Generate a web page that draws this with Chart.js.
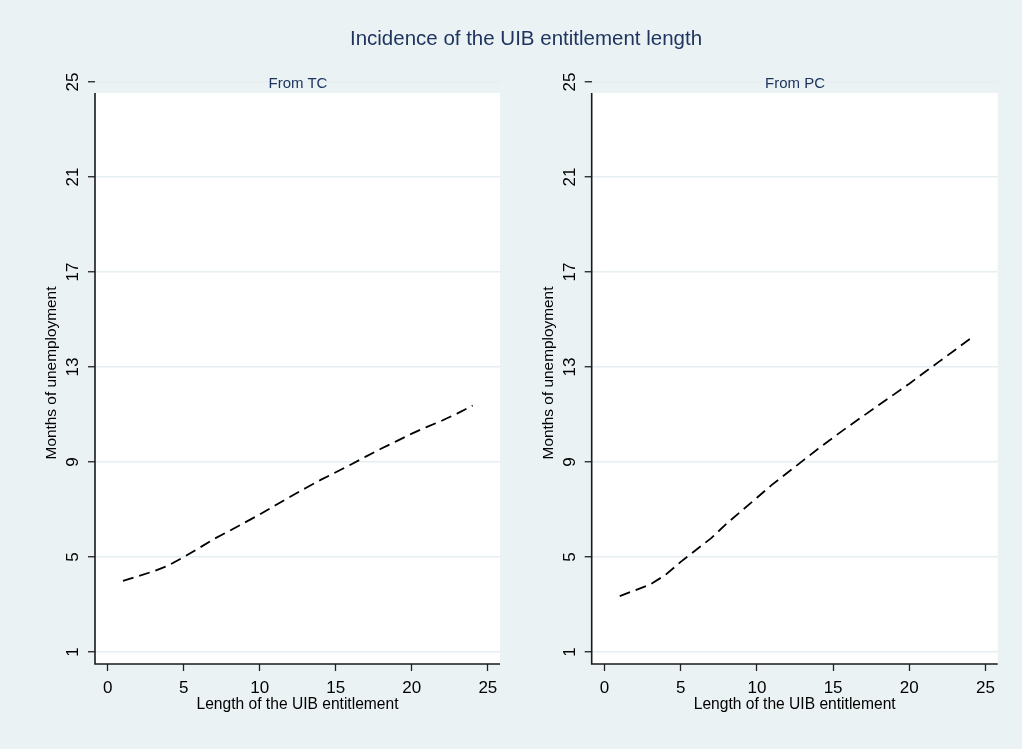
<!DOCTYPE html>
<html>
<head>
<meta charset="utf-8">
<script src="https://cdn.jsdelivr.net/npm/chart.js@4.4.1/dist/chart.umd.min.js"></script>
<style>
  html, body { margin: 0; padding: 0; }
  body {
    width: 1022px; height: 749px; position: relative; overflow: hidden;
    background: #eaf2f3; font-family: "Liberation Sans", Arial, sans-serif;
  }
  canvas { position: absolute; top: 0; z-index: 1; }
  .lbl {
    position: absolute; color: #1f3560; white-space: nowrap; z-index: 2;
    transform: translate(-50%, -50%); line-height: 1;
  }
</style>
</head>
<body>
<canvas id="chart-tc" width="511" height="749" style="left:0"></canvas>
<canvas id="chart-pc" width="511" height="749" style="left:511px"></canvas>
<div class="lbl" style="left:526px; top:38px; font-size:20.5px;">Incidence of the UIB entitlement length</div>
<div class="lbl" style="left:298px; top:82px; font-size:15px;">From TC</div>
<div class="lbl" style="left:795px; top:82px; font-size:15px;">From PC</div>
<script>
// length of the UIB entitlement (months)
const months = [1, 2, 3, 4, 5, 6, 7, 8, 9, 10, 11, 12, 13, 14, 15, 16, 17, 18, 19, 20, 21, 22, 23, 24];

// months of unemployment
const fromTC = [4.0, 4.2, 4.4, 4.65, 5.0, 5.38, 5.77, 6.1, 6.45, 6.8, 7.17, 7.54,
                7.9, 8.25, 8.57, 8.9, 9.24, 9.57, 9.88, 10.2, 10.48, 10.75, 11.05, 11.38];
const fromPC = [3.36, 3.6, 3.85, 4.25, 4.8, 5.3, 5.8, 6.4, 6.95, 7.5, 8.05, 8.55,
                9.05, 9.55, 10.03, 10.5, 10.95, 11.4, 11.85, 12.3, 12.78, 13.25, 13.72, 14.2];

const yTicks = [1, 5, 9, 13, 17, 21, 25];
const xTicks = [0, 5, 10, 15, 20, 25];

const FONT = "'Liberation Sans', Arial, sans-serif";

// white plot region + axis lines, stata style
const stataFrame = {
    id: 'stataFrame',
    beforeDraw(chart, args, opts) {
        const a = chart.chartArea;
        const ctx = chart.ctx;
        ctx.save();
        ctx.fillStyle = '#ffffff';
        ctx.fillRect(a.left, a.top + opts.inset, a.right - a.left, a.bottom - a.top - opts.inset);
        ctx.restore();
    },
    afterDatasetsDraw(chart, args, opts) {
        const a = chart.chartArea;
        const ctx = chart.ctx;
        ctx.save();
        ctx.strokeStyle = '#1a1a1a';
        ctx.lineWidth = 1.6;
        ctx.beginPath();
        ctx.moveTo(a.left, a.top + opts.inset);
        ctx.lineTo(a.left, a.bottom);
        ctx.lineTo(a.right, a.bottom);
        ctx.stroke();
        ctx.restore();
    }
};

function makeChart(canvasId, values, padLeft, padRight) {
    const ctx = document.getElementById(canvasId).getContext('2d');
    return new Chart(ctx, {
        type: 'line',
        data: {
            datasets: [{
                data: months.map((m, i) => ({ x: m, y: values[i] })),
                borderColor: '#000000',
                borderWidth: 1.8,
                borderDash: [11, 6],
                pointRadius: 0,
                tension: 0,
                fill: false
            }]
        },
        options: {
            responsive: false,
            animation: false,
            layout: { padding: { left: padLeft, right: padRight, top: 82, bottom: 25 } },
            plugins: {
                legend: { display: false },
                tooltip: { enabled: false },
                stataFrame: { inset: 11 }
            },
            scales: {
                x: {
                    type: 'linear',
                    min: -0.84,
                    max: 25.8,
                    afterBuildTicks: s => { s.ticks = xTicks.map(v => ({ value: v })); },
                    afterFit: s => { s.height = 60; },
                    grid: { drawOnChartArea: false, drawTicks: true, tickLength: 7, tickColor: '#222', tickWidth: 1.3 },
                    border: { display: false },
                    ticks: { color: '#000', padding: 7, font: { family: FONT, size: 17 }, maxRotation: 0 },
                    title: {
                        display: true, text: 'Length of the UIB entitlement', color: '#000',
                        font: { family: FONT, size: 15.6 }, padding: { top: 0, bottom: 10 }
                    }
                },
                y: {
                    type: 'linear',
                    min: 0.5,
                    max: 25,
                    afterBuildTicks: s => { s.ticks = yTicks.map(v => ({ value: v })); },
                    afterFit: s => { s.width = 60; },
                    grid: { color: '#e6eef2', lineWidth: 1.5, drawTicks: true, tickLength: 7, tickColor: '#222', tickWidth: 1.3 },
                    border: { display: false },
                    ticks: {
                        color: '#000', padding: 5, minRotation: 90, maxRotation: 90, crossAlign: 'center',
                        font: { family: FONT, size: 17 }
                    },
                    title: {
                        display: true, text: 'Months of unemployment', color: '#000',
                        font: { family: FONT, size: 15.4 }, padding: { top: 8, bottom: 0 }
                    }
                }
            }
        },
        plugins: [stataFrame]
    });
}

makeChart('chart-tc', fromTC, 35, 11);
makeChart('chart-pc', fromPC, 20.7, 24.3);
</script>
</body>
</html>
